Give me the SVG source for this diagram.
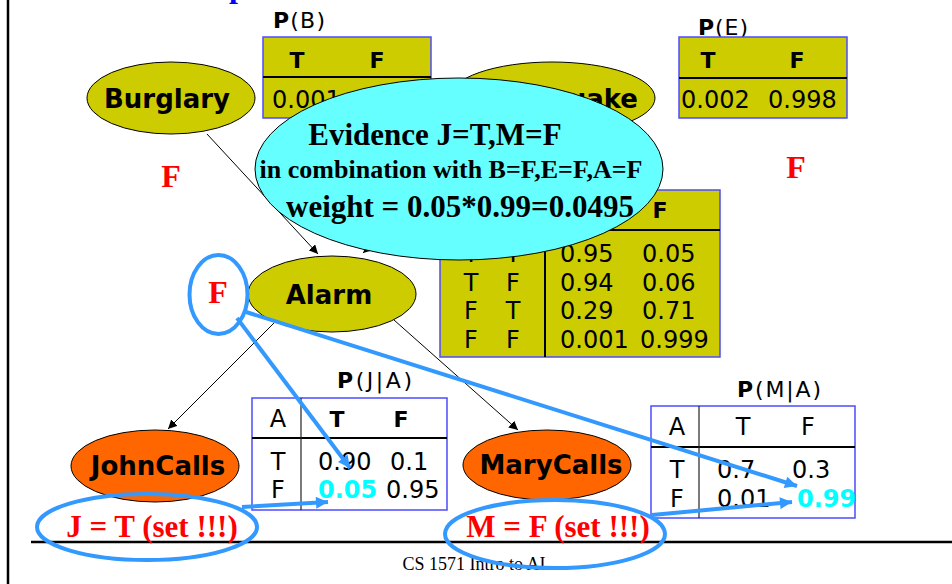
<svg xmlns="http://www.w3.org/2000/svg" width="952" height="584" viewBox="0 0 952 584">
<defs>
<marker id="ah" viewBox="0 0 10 10" refX="10" refY="5" markerWidth="9" markerHeight="9" markerUnits="userSpaceOnUse" orient="auto"><path d="M0,0 L10,5 L0,10 z" fill="#000"/></marker>
<marker id="bh" viewBox="0 0 10 10" refX="10" refY="5" markerWidth="14" markerHeight="12" markerUnits="userSpaceOnUse" orient="auto"><path d="M0,0 L10,5 L0,10 z" fill="#3399FF"/></marker>
<style>
.node{stroke:#000;stroke-width:1}
.olive{fill:#CCCC00}
.orange{fill:#FF6600}
.nl{font-family:"DejaVu Sans",Verdana,sans-serif;font-weight:bold;font-size:26px;text-anchor:middle;fill:#000}
.tb{fill:#CCCC00;stroke:#4B4BFF;stroke-width:1.5}
.tw{fill:none;stroke:#4B4BFF;stroke-width:1.5}
.hl{stroke:#000;stroke-width:2}
.vl{stroke:#222;stroke-width:1.2}
.t{font-family:"DejaVu Sans",Verdana,sans-serif;font-size:24px;fill:#000}
.th{font-family:"DejaVu Sans",Verdana,sans-serif;font-size:22px;font-weight:bold;fill:#000;text-anchor:middle}
.c{text-anchor:middle}
.lab{font-family:"DejaVu Sans",Verdana,sans-serif;font-size:22px;fill:#000}
.cy{fill:#00FFFF;font-weight:bold}
.red{font-family:"Liberation Serif","Times New Roman",serif;font-weight:bold;fill:#FF0000}
.ev{font-family:"Liberation Serif","Times New Roman",serif;font-weight:bold;fill:#000;text-anchor:middle}
.con{stroke:#000;stroke-width:1;fill:none;marker-end:url(#ah)}
.blue{stroke:#3399FF;stroke-width:4;fill:none}
.barrow{stroke:#3399FF;stroke-width:4;fill:none;marker-end:url(#bh)}
</style>
</defs>
<rect width="952" height="584" fill="#fff"/>
<line x1="8" y1="0" x2="8" y2="584" stroke="#000" stroke-width="2.5"/>
<line x1="31" y1="542" x2="952" y2="542" stroke="#000" stroke-width="2.5"/>
<text x="474" y="570" font-family="'Liberation Serif','Times New Roman',serif" font-size="18" text-anchor="middle" fill="#000">CS 1571 Intro to AI</text>
<text x="229" y="-3" font-family="'Liberation Serif','Times New Roman',serif" font-size="32" font-weight="bold" fill="#0000FF">p</text>

<g id="tableB">
<text class="lab" x="273" y="28" textLength="52"><tspan font-weight="bold">P</tspan>(B)</text>
<rect class="tb" x="263" y="37" width="168" height="81"/>
<line class="hl" x1="263" y1="77" x2="431" y2="77"/>
<text class="th" x="297" y="68">T</text>
<text class="th" x="377" y="68">F</text>
<text class="t" x="272" y="108">0.001</text>
</g>

<g id="tableE">
<text class="lab" x="698" y="35" textLength="50"><tspan font-weight="bold">P</tspan>(E)</text>
<rect class="tb" x="679" y="37" width="168" height="81"/>
<line class="hl" x1="679" y1="78" x2="847" y2="78"/>
<text class="th" x="708" y="68">T</text>
<text class="th" x="797" y="68">F</text>
<text class="t" x="681" y="108">0.002</text>
<text class="t" x="768" y="108">0.998</text>
</g>

<g id="tableA">
<rect class="tb" x="440" y="190" width="280" height="167"/>
<line class="hl" x1="440" y1="230" x2="720" y2="230"/>
<line class="hl" x1="545" y1="230" x2="545" y2="357"/>
<text class="th" x="660" y="218">F</text>
<text class="t c" x="471" y="262">T</text><text class="t c" x="513" y="262">T</text>
<text class="t" x="560" y="262">0.95</text><text class="t" x="642" y="262">0.05</text>
<text class="t c" x="471" y="291">T</text><text class="t c" x="513" y="291">F</text>
<text class="t" x="560" y="291">0.94</text><text class="t" x="642" y="291">0.06</text>
<text class="t c" x="471" y="319">F</text><text class="t c" x="513" y="319">T</text>
<text class="t" x="560" y="319">0.29</text><text class="t" x="642" y="319">0.71</text>
<text class="t c" x="471" y="348">F</text><text class="t c" x="513" y="348">F</text>
<text class="t" x="560" y="348">0.001</text><text class="t" x="640" y="348">0.999</text>
</g>

<g id="tableJ">
<text class="lab" x="337" y="388" textLength="75"><tspan font-weight="bold">P</tspan>(J|A)</text>
<rect class="tw" x="252" y="398" width="195" height="112"/>
<line class="hl" x1="252" y1="438" x2="447" y2="438"/>
<line class="vl" x1="301" y1="398" x2="301" y2="510"/>
<text class="t c" x="278" y="427">A</text>
<text class="th" x="337" y="427">T</text>
<text class="th" x="401" y="427">F</text>
<text class="t c" x="278" y="470">T</text>
<text class="t" x="318" y="470">0.90</text>
<text class="t" x="390" y="470">0.1</text>
<text class="t c" x="278" y="498">F</text>
<text class="t cy" x="318" y="498">0.05</text>
<text class="t" x="386" y="498">0.95</text>
</g>

<g id="tableM">
<text class="lab" x="737" y="397" textLength="84"><tspan font-weight="bold">P</tspan>(M|A)</text>
<rect class="tw" x="651" y="406" width="204" height="112"/>
<line class="hl" x1="651" y1="447" x2="855" y2="447"/>
<line class="vl" x1="699" y1="406" x2="699" y2="518"/>
<text class="t c" x="677" y="435">A</text>
<text class="t c" x="743" y="435">T</text>
<text class="t c" x="808" y="435">F</text>
<text class="t c" x="677" y="478">T</text>
<text class="t" x="717" y="478">0.7</text>
<text class="t" x="792" y="478">0.3</text>
<text class="t c" x="677" y="507">F</text>
<text class="t" x="717" y="507">0.01</text>
<text class="t cy" x="797" y="507">0.99</text>
</g>

<g id="Burglary">
<ellipse class="node olive" cx="171" cy="98" rx="84" ry="36"/>
<text class="nl" x="167" y="108">Burglary</text>
</g>
<g id="Earthquake">
<ellipse class="node olive" cx="552" cy="98" rx="103" ry="36"/>
<text class="nl" x="554" y="108">Earthquake</text>
</g>
<g id="Alarm">
<ellipse class="node olive" cx="332" cy="294" rx="84" ry="38"/>
<text class="nl" x="329" y="304">Alarm</text>
</g>
<g id="JohnCalls">
<ellipse class="node orange" cx="155" cy="466" rx="84" ry="36"/>
<text class="nl" x="158" y="475">JohnCalls</text>
</g>
<g id="MaryCalls">
<ellipse class="node orange" cx="547" cy="465" rx="84" ry="35"/>
<text class="nl" x="551" y="474">MaryCalls</text>
</g>

<g id="connectors">
<line class="con" x1="207" y1="134" x2="318" y2="254"/>
<line class="con" x1="495" y1="131" x2="363" y2="253"/>
<line class="con" x1="275" y1="322" x2="168" y2="429"/>
<line class="con" x1="394" y1="320" x2="518" y2="430"/>
</g>

<g id="evidence">
<ellipse cx="459" cy="169" rx="204" ry="91" fill="#66FFFF" stroke="#000" stroke-width="1"/>
<text class="ev" x="435" y="145" font-size="31">Evidence J=T,M=F</text>
<text class="ev" x="451" y="178" font-size="26">in combination with B=F,E=F,A=F</text>
<text class="ev" x="460" y="217" font-size="31">weight = 0.05*0.99=0.0495</text>
</g>

<g id="annotations">
<text class="red" x="171" y="187" font-size="32" text-anchor="middle">F</text>
<text class="red" x="796" y="178" font-size="32" text-anchor="middle">F</text>
<text class="red" x="218" y="303" font-size="32" text-anchor="middle">F</text>
<ellipse class="blue" cx="218.5" cy="294.5" rx="29" ry="39.5"/>
<text class="red" x="152" y="537" font-size="31" text-anchor="middle">J = T (set !!!)</text>
<ellipse class="blue" cx="147" cy="527" rx="110" ry="33"/>
<text class="red" x="558" y="537" font-size="31" text-anchor="middle">M = F (set !!!)</text>
<ellipse class="blue" cx="555" cy="534" rx="110" ry="34"/>
</g>

<g id="highlight-connectors">
<line class="barrow" x1="237" y1="318" x2="350" y2="468"/>
<line class="barrow" x1="246" y1="312" x2="797" y2="486"/>
<line class="barrow" x1="242" y1="507" x2="328" y2="502"/>
<line class="barrow" x1="652" y1="515" x2="792" y2="502"/>
</g>
</svg>
